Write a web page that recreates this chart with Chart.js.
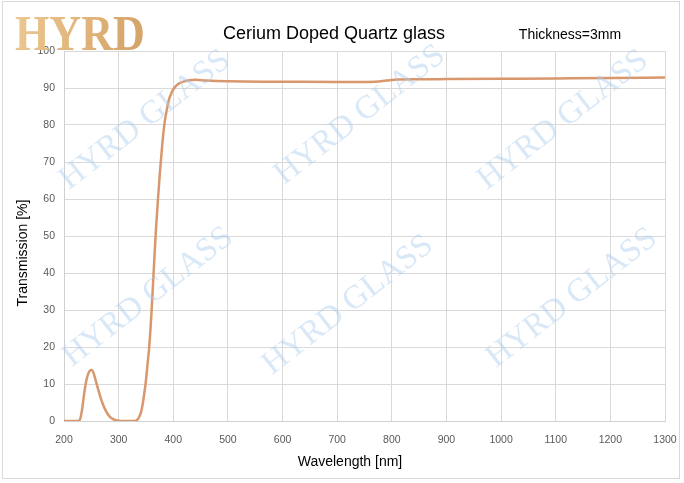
<!DOCTYPE html>
<html>
<head>
<meta charset="utf-8">
<script src="https://cdn.jsdelivr.net/npm/chart.js@4/dist/chart.umd.min.js"></script>
<style>
  html, body { margin: 0; padding: 0; background: #ffffff; }
  #wrap { width: 684px; height: 483px; position: relative; }
</style>
</head>
<body>
<div id="wrap"><canvas id="c" width="684" height="483"></canvas></div>
<script>
// ---- data ----
const chartTitle = "Cerium Doped Quartz glass";
const noteText = "Thickness=3mm";
const xAxisTitle = "Wavelength [nm]";
const yAxisTitle = "Transmission [%]";
const logoText = "HYRD";
const watermarkText = "HYRD GLASS";

const wavelengths = [200, 225, 229, 233, 237, 241, 245, 248, 251, 254, 258, 262, 266, 270, 275, 280, 285, 290, 295, 300, 310, 320, 330, 334, 338, 342, 346, 350, 353, 356, 360, 364, 368, 372, 376, 380, 384, 388, 392, 396, 400, 405, 410, 420, 430, 440, 460, 500, 600, 700, 770, 790, 810, 850, 900, 1000, 1100, 1200, 1300];
const transmission = [0, 0, 0.3, 3, 7.5, 11, 13, 13.7, 13.8, 13, 11, 8.8, 6.8, 5, 3.2, 1.9, 1.0, 0.5, 0.2, 0.05, 0, 0, 0, 0.3, 1.2, 3, 6.5, 11, 15.5, 20, 29, 40, 51, 60, 68, 75, 80.5, 84, 86.8, 88.4, 89.6, 90.6, 91.2, 91.8, 92.1, 92.2, 92.0, 91.8, 91.7, 91.6, 91.7, 92.0, 92.3, 92.35, 92.4, 92.5, 92.6, 92.7, 92.85];

const xTicksMin = 200, xTicksMax = 1300, xStep = 100;
const yTicksMin = 0, yTicksMax = 100, yStep = 10;

const points = wavelengths.map((w, i) => ({ x: w, y: transmission[i] }));

const decorPlugin = {
  id: 'decor',
  afterDraw(chart) {
    const ctx = chart.ctx;
    ctx.save();
    // outer frame
    ctx.strokeStyle = '#d9d9d9';
    ctx.lineWidth = 1;
    ctx.strokeRect(2.5, 1.5, 677, 477);

    // title & note
    ctx.fillStyle = '#000000';
    ctx.textBaseline = 'alphabetic';
    ctx.textAlign = 'center';
    ctx.font = '18px "Liberation Sans", Arial, sans-serif';
    ctx.fillText(chartTitle, 334, 39);
    ctx.font = '14px "Liberation Sans", Arial, sans-serif';
    ctx.fillText(noteText, 570, 39);

    // axis titles
    ctx.font = '14px "Liberation Sans", Arial, sans-serif';
    ctx.fillText(xAxisTitle, 350, 466);
    ctx.save();
    ctx.translate(27, 253);
    ctx.rotate(-Math.PI / 2);
    ctx.fillText(yAxisTitle, 0, 0);
    ctx.restore();

    // watermarks
    ctx.font = '33px "Liberation Serif", "DejaVu Serif", serif';
    ctx.fillStyle = 'rgba(170, 205, 238, 0.45)';
    const marks = [[145, 120], [360, 115], [563, 120], [148, 297], [348, 305], [572, 298]];
    marks.forEach(([mx, my]) => {
      ctx.save();
      ctx.translate(mx, my);
      ctx.rotate(-38 * Math.PI / 180);
      ctx.textAlign = 'center';
      ctx.textBaseline = 'middle';
      ctx.fillText(watermarkText, 0, 0);
      ctx.restore();
    });

    // logo
    const g = ctx.createLinearGradient(15, 10, 145, 52);
    g.addColorStop(0, '#ecc994');
    g.addColorStop(0.5, '#e2b87e');
    g.addColorStop(1, '#d6a56a');
    ctx.fillStyle = g;
    ctx.font = 'bold 50px "Liberation Serif", "DejaVu Serif", serif';
    ctx.textAlign = 'left';
    ctx.textBaseline = 'alphabetic';
    ctx.fillText(logoText, 15, 50, 130);
    ctx.restore();
  }
};

new Chart(document.getElementById('c'), {
  type: 'line',
  data: {
    datasets: [{
      data: points,
      borderColor: '#d9976d',
      borderWidth: 2.5,
      pointRadius: 0,
      fill: false,
      cubicInterpolationMode: 'monotone'
    }]
  },
  options: {
    responsive: false,
    animation: false,
    devicePixelRatio: 1,
    layout: { padding: { left: 0, right: 19, top: 51, bottom: 0 } },
    plugins: { legend: { display: false }, title: { display: false }, tooltip: { enabled: false } },
    scales: {
      x: {
        type: 'linear',
        min: xTicksMin, max: xTicksMax,
        afterFit: (s) => { s.height = 62; s.paddingRight = 0; },
        grid: { color: '#d9d9d9', drawTicks: false, lineWidth: 1 },
        border: { color: '#d0d0d0' },
        ticks: { stepSize: xStep, padding: 13, color: '#595959', font: { family: '"Liberation Sans", Arial, sans-serif', size: 10.5 }, maxRotation: 0, callback: (v) => String(v) }
      },
      y: {
        min: yTicksMin, max: yTicksMax,
        afterFit: (s) => { s.width = 64; },
        grid: { color: '#d9d9d9', drawTicks: false, lineWidth: 1 },
        border: { color: '#d0d0d0' },
        ticks: { stepSize: yStep, padding: 9, color: '#595959', font: { family: '"Liberation Sans", Arial, sans-serif', size: 10.5 }, callback: (v) => String(v) }
      }
    }
  },
  plugins: [decorPlugin]
});
</script>
</body>
</html>
